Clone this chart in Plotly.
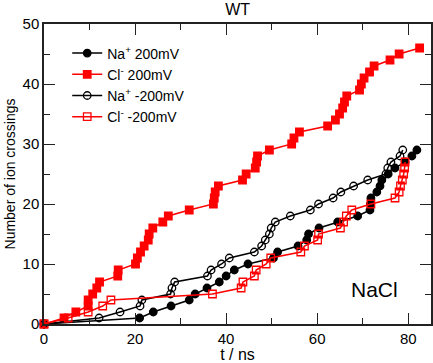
import plotly.graph_objects as go

# Na+ 200mV (filled circles): crossing times (ns), cumulative count
na_pos_t = [0, 21.0, 24.0, 27.9, 31.9, 33.2, 35.8, 38.5, 40.0, 41.8, 44.8, 50.4, 51.3,
            55.8, 57.7, 58.1, 60.4, 64.5, 68.9, 71.6, 71.7, 71.8, 73.1, 73.8, 74.2,
            75.6, 77.1, 79.3, 80.8, 81.9]
na_pos_n = list(range(len(na_pos_t)))

# Cl- 200mV (filled squares)
cl_pos_t = [0, 4.4, 7.0, 9.7, 9.7, 10.7, 11.6, 12.2, 16.2, 16.3, 20.1, 20.5, 21.2, 22.0,
            22.9, 23.1, 23.9, 26.1, 27.3, 31.9, 37.2, 37.4, 37.6, 38.3, 43.6, 44.4,
            46.4, 46.7, 46.9, 49.5, 54.4, 54.9, 56.1, 62.3, 64.0, 64.9, 65.6, 66.0,
            66.5, 69.3, 69.7, 70.3, 71.5, 72.5, 76.0, 78.0, 82.5]
cl_pos_n = list(range(len(cl_pos_t)))

# Na+ -200mV (open circles)
na_neg_t = [0, 12.1, 16.7, 21.1, 21.5, 27.8, 28.1, 28.7, 35.9, 36.7, 39.0, 40.7, 46.2,
            47.8, 48.6, 49.5, 49.9, 50.8, 54.1, 58.5, 60.3, 63.5, 65.2, 68.0, 71.1,
            75.1, 75.5, 76.2, 78.2, 78.8]
na_neg_n = list(range(len(na_neg_t)))

# Cl- -200mV (open squares)
cl_neg_t = [0, 5.3, 9.7, 12.9, 14.7, 37.0, 43.3, 43.7, 46.2, 46.6, 48.8, 49.8, 56.4,
            57.2, 60.1, 60.3, 65.1, 65.8, 66.4, 67.6, 71.8, 77.1, 78.0, 78.3, 78.7,
            79.0, 79.2, 79.3]
cl_neg_n = list(range(len(cl_neg_t)))

names = ["Na<sup>+</sup> 200mV", "Cl<sup>-</sup> 200mV",
         "Na<sup>+</sup> -200mV", "Cl<sup>-</sup> -200mV"]

FONT = "Liberation Sans, Arial, sans-serif"
fig = go.Figure()

def add(t, n, name, color, symbol):
    fig.add_trace(go.Scatter(
        x=t, y=n, name=name, mode="lines+markers", cliponaxis=False,
        line=dict(color=color, width=1.5),
        marker=dict(symbol=symbol, size=7.5, color=color,
                    line=dict(color=color, width=1.3)),
    ))

add(na_pos_t, na_pos_n, names[0], "black", "circle")
add(cl_pos_t, cl_pos_n, names[1], "#ff0000", "square")
add(na_neg_t, na_neg_n, names[2], "black", "circle-open")
add(cl_neg_t, cl_neg_n, names[3], "#ff0000", "square-open")

axis_common = dict(
    showline=True, linecolor="#222", linewidth=1.5, mirror="ticks",
    ticks="inside", ticklen=11, tickwidth=1.2, tickcolor="#222",
    showgrid=False, zeroline=False, automargin=False,
    tickfont=dict(family=FONT, size=15, color="black"),
)

fig.update_layout(
    width=433, height=363,
    margin=dict(l=44, r=2, t=24, b=39, autoexpand=False),
    plot_bgcolor="white", paper_bgcolor="white",
    font=dict(family=FONT, color="black"),
    title=dict(text="WT", x=0.549, xanchor="center", y=0.974, yanchor="middle",
               font=dict(family=FONT, size=16, color="black")),
    xaxis=dict(range=[0, 85], dtick=20,
               minor=dict(dtick=10, ticks="inside", ticklen=6, tickcolor="#222", tickwidth=1.2),
               title=dict(text="t / ns", standoff=2, font=dict(family=FONT, size=16)),
               **axis_common),
    yaxis=dict(range=[0, 50], dtick=10,
               minor=dict(dtick=5, ticks="inside", ticklen=6, tickcolor="#222", tickwidth=1.2),
               title=dict(text="Number of ion crossings", standoff=4, font=dict(family=FONT, size=14)),
               **axis_common),
    legend=dict(x=0.06, y=0.955, xanchor="left", yanchor="top",
                bgcolor="rgba(0,0,0,0)", font=dict(family=FONT, size=14),
                tracegroupgap=0, itemwidth=30),
    showlegend=True,
    annotations=[dict(text="NaCl", x=72.5, y=5.8, xref="x", yref="y",
                      showarrow=False, font=dict(family=FONT, size=21, color="black"))],
)

fig.write_html("out.html", config={"displayModeBar": False},
               post_script="document.body.style.margin='0';document.body.style.overflow='hidden';")
